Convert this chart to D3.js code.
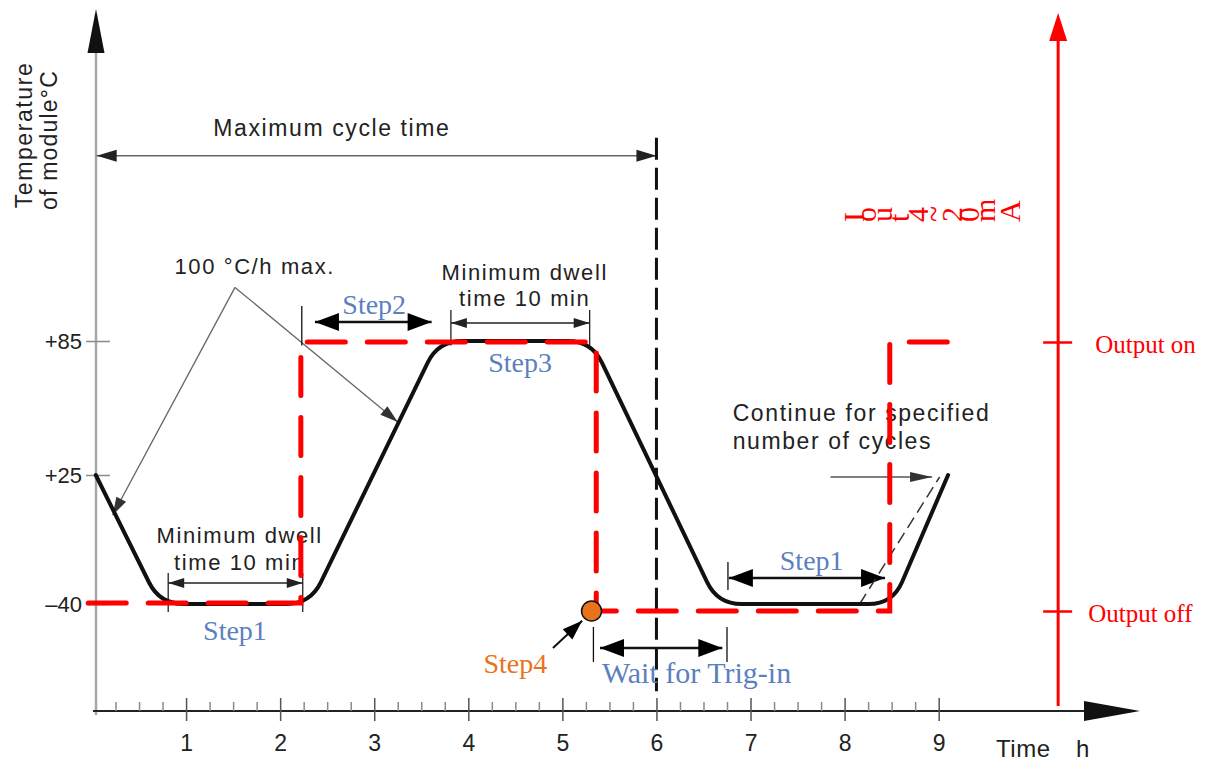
<!DOCTYPE html>
<html>
<head>
<meta charset="utf-8">
<script src="https://cdn.jsdelivr.net/npm/d3@7"></script>
<style>
  body { margin: 0; background: #ffffff; }
  svg { display: block; }
</style>
</head>
<body>
<div id="chart"></div>
<script>
(function () {
    "use strict";

    // temperature profile: one full cycle plus the start of the next (h, °C)
    const profileTime = [0.04, 0.72, 2.32, 3.68, 5.31, 6.65, 8.51, 9.10];
    const profileTemp = [25, -40, -40, 85, 85, -40, -40, 25];

    // thin dashed ramp for "continue"
    const altTime = [8.16, 9.01];
    const altTemp = [-40, 24];

    // trigger output level (0 = off, 1 = on)
    const triggerTime = [-0.04, 2.22, 2.22, 5.36, 5.36, 8.48, 8.48, 9.10];
    const triggerLevel = [0.03, 0.03, 1, 1, 0, 0, 1, 1];
    const step4Time = 5.31;

    const timeTicks = [1, 2, 3, 4, 5, 6, 7, 8, 9];
    const tempTicks = [85, 25, -40];
    const tempTickLabels = ["+85", "+25", "\u201340"];
    const outputTicks = [1, 0];
    const outputTickLabels = ["Output on", "Output off"];

    const RED = "#ff0000";
    const BLUE = "#5b80bd";
    const ORANGE = "#e8731a";
    const SANS = "'Liberation Sans', Arial, sans-serif";
    const SERIF = "'Liberation Serif', 'Times New Roman', serif";

    const width = 1206;
    const height = 765;

    const x = d3.scaleLinear().domain([0, 11.14]).range([92, 1140]);
    // schematic axis: ticks are not evenly spaced
    const y = d3.scaleLinear().domain([-40, 25, 85]).range([604, 475, 341]);
    const yOut = d3.scaleLinear().domain([0, 1]).range([611, 342]);

    const P = (t, T) => [x(t), y(T)];

    const svg = d3.select("#chart")
        .append("svg")
        .attr("width", width)
        .attr("height", height)
        .style("font-family", SANS);

    function arrowHead(g, from, tip, len, half, color) {
        const a = Math.atan2(tip[1] - from[1], tip[0] - from[0]);
        const bx = tip[0] - len * Math.cos(a);
        const by = tip[1] - len * Math.sin(a);
        const nx = -Math.sin(a) * half;
        const ny = Math.cos(a) * half;
        const p = d3.path();
        p.moveTo(tip[0], tip[1]);
        p.lineTo(bx + nx, by + ny);
        p.lineTo(bx - nx, by - ny);
        p.closePath();
        g.append("path").attr("d", p.toString()).attr("fill", color);
    }

    function arrowLine(g, p1, p2, o) {
        g.append("line")
            .attr("x1", p1[0]).attr("y1", p1[1])
            .attr("x2", p2[0]).attr("y2", p2[1])
            .attr("stroke", o.stroke)
            .attr("stroke-width", o.width);
        if (o.start) arrowHead(g, p2, p1, o.len, o.half, o.head);
        if (o.end) arrowHead(g, p1, p2, o.len, o.half, o.head);
    }

    function roundedPath(pts, r) {
        const p = d3.path();
        p.moveTo(pts[0][0], pts[0][1]);
        for (let i = 1; i < pts.length - 1; i++) {
            const [ax, ay] = pts[i - 1];
            const [cx, cy] = pts[i];
            const [bx, by] = pts[i + 1];
            const l1 = Math.hypot(cx - ax, cy - ay);
            const l2 = Math.hypot(bx - cx, by - cy);
            const r1 = Math.min(r, l1 / 2);
            const r2 = Math.min(r, l2 / 2);
            p.lineTo(cx - (cx - ax) / l1 * r1, cy - (cy - ay) / l1 * r1);
            p.quadraticCurveTo(cx, cy, cx + (bx - cx) / l2 * r2, cy + (by - cy) / l2 * r2);
        }
        const last = pts[pts.length - 1];
        p.lineTo(last[0], last[1]);
        return p.toString();
    }

    function vline(g, t, T0, T1, color, w) {
        g.append("line")
            .attr("x1", x(t)).attr("x2", x(t))
            .attr("y1", y(T0)).attr("y2", y(T1))
            .attr("stroke", color)
            .attr("stroke-width", w);
    }

    function note(g, t, T, text, anchor) {
        return g.append("text")
            .attr("x", x(t)).attr("y", y(T))
            .attr("text-anchor", anchor)
            .attr("font-size", 22)
            .attr("letter-spacing", 1.6)
            .attr("fill", "#222")
            .text(text);
    }

    // ---- axes ----
    const axes = svg.append("g");

    // left temperature axis
    axes.append("line")
        .attr("x1", 96).attr("x2", 96)
        .attr("y1", 715).attr("y2", 48)
        .attr("stroke", "#a6a6a6")
        .attr("stroke-width", 2.5);
    arrowHead(axes, [96, 60], [96, 9], 44, 8.5, "#111");

    const yAxis = axes.append("g")
        .attr("transform", "translate(96,0)")
        .call(d3.axisLeft(y)
            .tickValues(tempTicks)
            .tickFormat((d, i) => tempTickLabels[i])
            .tickSize(10)
            .tickPadding(4));
    yAxis.select(".domain").remove();
    yAxis.selectAll(".tick line")
        .attr("x1", -10).attr("x2", 14)
        .attr("stroke", "#8a8a8a")
        .attr("stroke-width", 1.5);
    yAxis.selectAll(".tick text")
        .attr("font-family", SANS)
        .attr("font-size", 22)
        .attr("fill", "#222");

    axes.append("text")
        .attr("transform", "translate(32,135) rotate(-90)")
        .attr("text-anchor", "middle")
        .attr("font-size", 23)
        .attr("letter-spacing", 1.6)
        .attr("fill", "#222")
        .text("Temperature");
    axes.append("text")
        .attr("transform", "translate(57,140) rotate(-90)")
        .attr("text-anchor", "middle")
        .attr("font-size", 23)
        .attr("letter-spacing", 1.2)
        .attr("fill", "#222")
        .text("of module\u00b0C");

    // bottom time axis
    axes.append("line")
        .attr("x1", 93).attr("x2", 1095)
        .attr("y1", 711).attr("y2", 711)
        .attr("stroke", "#222")
        .attr("stroke-width", 2);
    arrowHead(axes, [1080, 711], [1140, 711], 56, 10, "#111");

    const minorTicks = d3.range(0.25, 9.01, 0.25).filter((t) => t % 1 !== 0);
    const xMinor = axes.append("g")
        .attr("transform", "translate(0,711)")
        .call(d3.axisBottom(x).tickValues(minorTicks).tickFormat("").tickSize(0));
    xMinor.select(".domain").remove();
    xMinor.selectAll(".tick line")
        .attr("y1", -9).attr("y2", 0)
        .attr("stroke", "#8a8a8a")
        .attr("stroke-width", 1.5);

    const xAxis = axes.append("g")
        .attr("transform", "translate(0,711)")
        .call(d3.axisBottom(x).tickValues(timeTicks).tickSize(10).tickPadding(14));
    xAxis.select(".domain").remove();
    xAxis.selectAll(".tick line")
        .attr("y1", -13).attr("y2", 10)
        .attr("stroke", "#555")
        .attr("stroke-width", 1.5);
    xAxis.selectAll(".tick text")
        .attr("font-family", SANS)
        .attr("font-size", 23)
        .attr("fill", "#222");

    axes.append("text")
        .attr("x", x(9.61)).attr("y", 757)
        .attr("font-size", 24)
        .attr("letter-spacing", 0.5)
        .attr("fill", "#222")
        .text("Time");
    axes.append("text")
        .attr("x", x(10.46)).attr("y", 757)
        .attr("font-size", 24)
        .attr("fill", "#222")
        .text("h");

    // right output axis
    const xr = x(10.27);
    axes.append("line")
        .attr("x1", xr).attr("x2", xr)
        .attr("y1", 706).attr("y2", 35)
        .attr("stroke", RED)
        .attr("stroke-width", 3);
    arrowHead(axes, [xr, 50], [xr, 13], 28, 9, RED);

    const rAxis = axes.append("g")
        .attr("transform", `translate(${xr},0)`)
        .call(d3.axisRight(yOut)
            .tickValues(outputTicks)
            .tickFormat((d, i) => outputTickLabels[i])
            .tickSize(14)
            .tickPadding(16));
    rAxis.select(".domain").remove();
    rAxis.selectAll(".tick line")
        .attr("x1", -15).attr("x2", 14)
        .attr("stroke", RED)
        .attr("stroke-width", 2.5);
    rAxis.selectAll(".tick text")
        .attr("font-family", SERIF)
        .attr("font-size", 25)
        .attr("fill", RED)
        .attr("dy", "0.4em");
    rAxis.selectAll(".tick").filter((d) => d === 1).select("text").attr("dx", 7);

    // sideways red label by the right axis
    axes.append("text")
        .attr("x", 864).attr("y", 222)
        .attr("rotate", -90)
        .attr("textLength", 178)
        .attr("lengthAdjust", "spacing")
        .attr("font-family", SERIF)
        .attr("font-size", 30)
        .attr("fill", RED)
        .text("Iout 4~20mA");

    // ---- annotations behind the curve ----
    const ann = svg.append("g");

    // maximum cycle time
    arrowLine(ann, P(0.05, 168), P(6, 168), {
        stroke: "#666", width: 1.5, start: true, end: true, len: 20, half: 6, head: "#222"
    });
    note(ann, 2.55, 177, "Maximum cycle time", "middle").attr("font-size", 23);

    ann.append("line")
        .attr("x1", x(6)).attr("x2", x(6))
        .attr("y1", y(176)).attr("y2", y(-84))
        .attr("stroke", "#111")
        .attr("stroke-width", 3)
        .attr("stroke-dasharray", "22 8");

    // 100 °C/h max.
    note(ann, 1.73, 115, "100 \u00b0C/h max.", "middle");
    arrowLine(ann, P(1.52, 109), P(0.22, 4.8), {
        stroke: "#666", width: 1.3, end: true, len: 18, half: 5.5, head: "#333"
    });
    arrowLine(ann, P(1.52, 109), P(3.25, 48.7), {
        stroke: "#666", width: 1.3, end: true, len: 18, half: 5.5, head: "#333"
    });

    // minimum dwell at +85
    note(ann, 4.6, 112.3, "Minimum dwell", "middle");
    note(ann, 4.6, 100.7, "time 10 min", "middle");
    vline(ann, 3.815, 98.9, 83, "#222", 1.3);
    vline(ann, 5.29, 98.9, 83, "#222", 1.3);
    arrowLine(ann, P(3.815, 93.1), P(5.29, 93.1), {
        stroke: "#222", width: 1.5, start: true, end: true, len: 16, half: 5, head: "#222"
    });

    // Step2
    vline(ann, 2.23, 100.7, 83, "#111", 1.3);
    arrowLine(ann, P(2.37, 93.5), P(3.61, 93.5), {
        stroke: "#111", width: 2.5, start: true, end: true, len: 24, half: 9, head: "#000"
    });

    // minimum dwell at -40
    note(ann, 1.57, -9.3, "Minimum dwell", "middle");
    note(ann, 1.57, -22.9, "time 10 min", "middle");
    vline(ann, 0.81, -24.4, -44, "#222", 1.3);
    vline(ann, 2.24, -24.4, -44, "#222", 1.3);
    arrowLine(ann, P(0.81, -29.4), P(2.24, -29.4), {
        stroke: "#222", width: 1.5, start: true, end: true, len: 16, half: 5, head: "#222"
    });

    // Step1 on the second cycle
    vline(ann, 6.76, -18.8, -33, "#111", 1.3);
    arrowLine(ann, P(6.77, -26.9), P(8.43, -26.9), {
        stroke: "#111", width: 2.5, start: true, end: true, len: 24, half: 9, head: "#000"
    });

    // wait for trig-in
    vline(ann, 5.33, -51.6, -69.2, "#111", 1.3);
    vline(ann, 6.75, -51.6, -69.2, "#111", 1.3);
    arrowLine(ann, P(5.40, -62.2), P(6.70, -62.2), {
        stroke: "#111", width: 2.5, start: true, end: true, len: 24, half: 9, head: "#000"
    });

    // continue for specified number of cycles
    note(ann, 6.81, 49.2, "Continue for specified", "start").attr("font-size", 23);
    note(ann, 6.81, 36.6, "number of cycles", "start").attr("font-size", 23);
    arrowLine(ann, P(7.85, 24), P(8.93, 24), {
        stroke: "#555", width: 1.3, end: true, len: 22, half: 5, head: "#333"
    });

    ann.append("line")
        .attr("x1", x(altTime[0])).attr("y1", y(altTemp[0]))
        .attr("x2", x(altTime[1])).attr("y2", y(altTemp[1]))
        .attr("stroke", "#333")
        .attr("stroke-width", 1.5)
        .attr("stroke-dasharray", "12 6");

    // ---- temperature profile ----
    const profilePts = profileTime.map((t, i) => [x(t), y(profileTemp[i])]);
    svg.append("path")
        .attr("d", roundedPath(profilePts, 24))
        .attr("fill", "none")
        .attr("stroke", "#111")
        .attr("stroke-width", 4)
        .attr("stroke-linecap", "round");

    // ---- trigger output ----
    const trig = d3.line()
        .x((d) => x(d[0]))
        .y((d) => yOut(d[1]));
    svg.append("path")
        .attr("d", trig(triggerTime.map((t, i) => [t, triggerLevel[i]])))
        .attr("fill", "none")
        .attr("stroke", RED)
        .attr("stroke-width", 5)
        .attr("stroke-linecap", "round")
        .attr("stroke-dasharray", "38 22");

    svg.append("circle")
        .attr("cx", x(step4Time)).attr("cy", yOut(0))
        .attr("r", 10)
        .attr("fill", ORANGE)
        .attr("stroke", "#111")
        .attr("stroke-width", 1.5);

    arrowLine(svg, P(4.9, -62.2), P(5.21, -48.4), {
        stroke: "#111", width: 2, end: true, len: 20, half: 7, head: "#000"
    });

    // ---- step labels ----
    const steps = [
        { text: "Step1", t: 1.52, T: -58.1, color: BLUE },
        { text: "Step2", t: 3.0, T: 97.1, color: BLUE },
        { text: "Step3", t: 4.55, T: 71.1, color: BLUE },
        { text: "Step1", t: 7.65, T: -22.9, color: BLUE },
        { text: "Step4", t: 4.5, T: -74.8, color: ORANGE }
    ];
    svg.append("g")
        .selectAll("text")
        .data(steps)
        .join("text")
        .attr("x", (d) => x(d.t))
        .attr("y", (d) => y(d.T))
        .attr("text-anchor", "middle")
        .attr("font-family", SERIF)
        .attr("font-size", 28)
        .attr("fill", (d) => d.color)
        .text((d) => d.text);

    svg.append("text")
        .attr("x", x(5.42)).attr("y", y(-79.8))
        .attr("font-family", SERIF)
        .attr("font-size", 30)
        .attr("fill", BLUE)
        .text("Wait for Trig-in");
})();
</script>
</body>
</html>
